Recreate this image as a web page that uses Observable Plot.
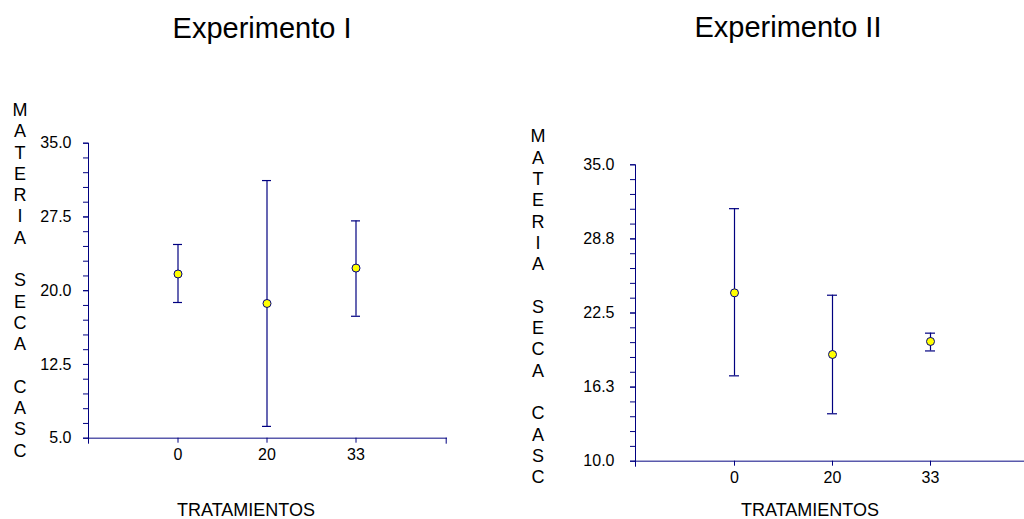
<!DOCTYPE html>
<html>
<head>
<meta charset="utf-8">
<script src="https://cdn.jsdelivr.net/npm/d3@7"></script>
<script src="https://cdn.jsdelivr.net/npm/@observablehq/plot@0.6"></script>
<style>
  body { margin: 0; background: #fff; overflow: hidden; }
  #root { position: relative; width: 1024px; height: 519px; overflow: hidden; font-family: "Liberation Sans", Arial, sans-serif; color: #000; }
  .panel { position: absolute; top: 0; height: 519px; }
  .panel svg { max-width: none !important; display: block; }
  .title { position: absolute; font-size: 29px; line-height: 1; transform: translateX(-50%); white-space: nowrap; }
  .xlab { position: absolute; font-size: 18px; line-height: 1; transform: translateX(-50%); white-space: nowrap; }
  .ylab { position: absolute; font-size: 18px; line-height: 21.3px; text-align: center; width: 20px; transform: translateX(-50%); white-space: pre; }
</style>
</head>
<body>
<div id="root"></div>
<script>
// ---- data ----
const treatments = ["0", "20", "33"];

const exp1Mean = [21.7, 18.7, 22.3];
const exp1Low  = [18.8, 6.2, 17.4];
const exp1High = [24.7, 31.2, 27.1];

const exp2Mean = [24.2, 19.0, 20.1];
const exp2Low  = [17.2, 14.0, 19.3];
const exp2High = [31.3, 24.0, 20.8];

const exp1YTicks = [5, 12.5, 20, 27.5, 35];
const exp1YTickLabels = ["5.0", "12.5", "20.0", "27.5", "35.0"];
const exp2YTicks = [10, 16.25, 22.5, 28.75, 35];
const exp2YTickLabels = ["10.0", "16.3", "22.5", "28.8", "35.0"];

const titles = ["Experimento I", "Experimento II"];
const xTitle = "TRATAMIENTOS";
const yTitle = "MATERIA SECA CASC";

const navy = "#000080";

function rows(mean, low, high) {
  return treatments.map((t, i) => ({t, mean: mean[i], low: low[i], high: high[i]}));
}

function panel({data, yDomain, majors, labels, minorStep, width, marginLeft, marginRight, marginTop, marginBottom, tickPadding}) {
  const labelMap = new Map(majors.map((v, i) => [v, labels[i]]));
  const minors = d3.range(yDomain[0], yDomain[1] + 1e-9, minorStep);
  const frameH = 519 - marginTop - marginBottom;
  return Plot.plot({
    width, height: 519,
    marginLeft, marginRight, marginTop, marginBottom,
    style: {fontFamily: "'Liberation Sans', Arial, sans-serif", fontSize: "16px", background: "transparent", color: "#000", overflow: "visible", maxWidth: "none"},
    x: {type: "band", domain: treatments, paddingInner: 0.9, paddingOuter: 0.95, label: null},
    y: {domain: yDomain, label: null},
    marks: [
      Plot.frame({anchor: "left", stroke: navy, insetBottom: -5}),
      Plot.frame({anchor: "bottom", stroke: navy, strokeOpacity: 0.65, strokeWidth: 1.5}),
      Plot.frame({anchor: "right", stroke: navy, insetTop: frameH, insetBottom: -5}),
      Plot.axisY(minors, {tickSize: 5, stroke: navy, fill: "none", label: null}),
      Plot.axisY(majors, {tickSize: 5, tickPadding, stroke: navy, fill: "#000", tickFormat: d => labelMap.get(d), label: null}),
      Plot.axisX({tickSize: 5, tickPadding: 5, stroke: navy, fill: "#000", label: null}),
      Plot.ruleX(data, {x: "t", y1: "low", y2: "high", stroke: navy, strokeWidth: 1.2}),
      Plot.tickY(data, {x: "t", y: "high", stroke: navy, strokeWidth: 1.2}),
      Plot.tickY(data, {x: "t", y: "low", stroke: navy, strokeWidth: 1.2}),
      Plot.dot(data, {x: "t", y: "mean", r: 4, fill: "#ffff00", stroke: navy, strokeWidth: 1})
    ]
  });
}

const root = document.getElementById("root");

function addPanel(el, left, width) {
  const wrap = document.createElement("div");
  wrap.className = "panel";
  wrap.style.left = left + "px";
  wrap.style.width = width + "px";
  wrap.appendChild(el);
  root.appendChild(wrap);
}

addPanel(panel({
  data: rows(exp1Mean, exp1Low, exp1High),
  yDomain: [5, 35], majors: exp1YTicks, labels: exp1YTickLabels, minorStep: 1.5,
  width: 512, marginLeft: 88, marginRight: 66.3, marginTop: 142.7, marginBottom: 81.3, tickPadding: 12
}), 0, 512);

addPanel(panel({
  data: rows(exp2Mean, exp2Low, exp2High),
  yDomain: [10, 35], majors: exp2YTicks, labels: exp2YTickLabels, minorStep: 1.25,
  width: 530, marginLeft: 123, marginRight: 12.3, marginTop: 164.3, marginBottom: 58.3, tickPadding: 16
}), 512, 530);

function addText(cls, text, x, y) {
  const d = document.createElement("div");
  d.className = cls;
  d.textContent = text;
  d.style.left = x + "px";
  d.style.top = y + "px";
  root.appendChild(d);
}

addText("title", titles[0], 262, 14);
addText("title", titles[1], 788, 13);
addText("xlab", xTitle, 246, 501);
addText("xlab", xTitle, 810, 501);
const stacked = yTitle.split("").join("\n");
addText("ylab", stacked, 20, 100);
addText("ylab", stacked, 538, 126.4);
</script>
</body>
</html>
